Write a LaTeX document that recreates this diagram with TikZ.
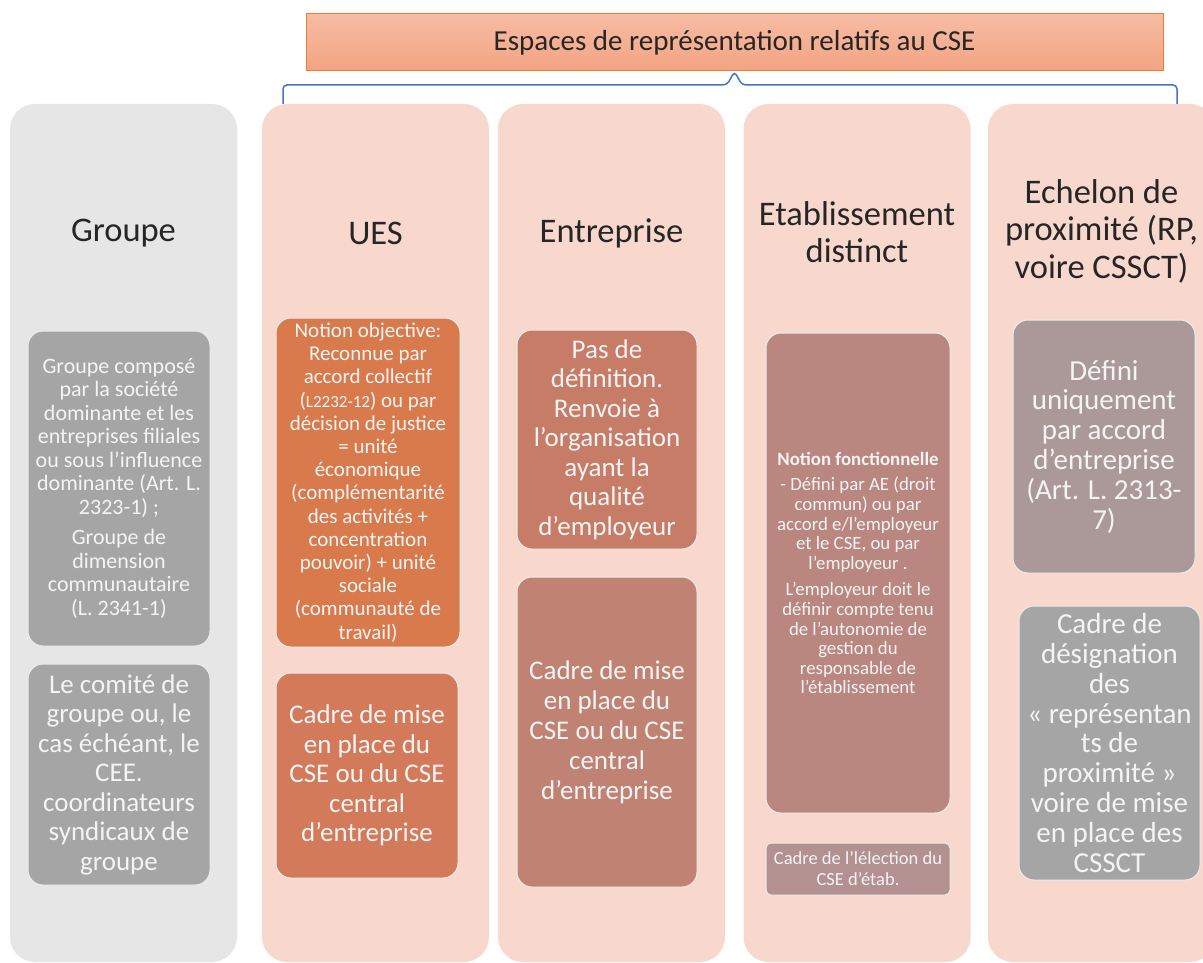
\documentclass[tikz,border=0pt]{standalone}
\usepackage{fontspec}
\setmainfont{Carlito}
\definecolor{colgray}{HTML}{E7E6E6}
\definecolor{colsal}{HTML}{F8D8CD}
\definecolor{hdrtop}{HTML}{F6BCA4}
\definecolor{hdrbot}{HTML}{F3A482}
\definecolor{hdrline}{HTML}{ED7D31}
\definecolor{bracecol}{HTML}{4472C4}
\definecolor{titlecol}{HTML}{262626}
\definecolor{gbox}{HTML}{A5A5A5}
\definecolor{uesA}{HTML}{D97A4C}
\definecolor{uesB}{HTML}{D37A5A}
\definecolor{entA}{HTML}{C77C67}
\definecolor{entB}{HTML}{BF8273}
\definecolor{etaA}{HTML}{B9877F}
\definecolor{etaB}{HTML}{B29190}
\definecolor{echA}{HTML}{AB9898}
\definecolor{boxtext}{HTML}{F4F4F4}
\begin{document}
\begin{tikzpicture}[x=1pt,y=-1pt,
  col/.style={rounded corners=25pt, minimum width=227pt, minimum height=858pt, inner sep=0pt},
  coltitle/.style={align=center, text=titlecol, font=\fontsize{34.5}{37.5}\selectfont, inner sep=0pt},
  innerbox/.style={rounded corners=15pt, draw=white!85!gray, line width=1pt, align=center, inner sep=0pt, text=boxtext},
  brace/.style={draw=bracecol, line width=1.5pt, rounded corners=4pt}]
\useasboundingbox (0,0) rectangle (1203,963);
\clip (0,0) rectangle (1203,963);
\fill[white] (0,0) rectangle (1203,963);

% header
\node[draw=hdrline, line width=1pt, top color=hdrtop, bottom color=hdrbot,
      minimum width=857pt, minimum height=57pt, inner sep=0pt, text=titlecol,
      font=\fontsize{29}{32}\selectfont] (hdr) at (734.5,42.5) {Espaces de représentation relatifs au CSE};

% columns
\node[col, fill=colgray] (cgrp) at (123.5,533) {};
\node[col, fill=colsal] (cues) at (375.5,533) {};
\node[col, fill=colsal] (cent) at (611.5,533) {};
\node[col, fill=colsal] (ceta) at (857,533) {};
\node[col, fill=colsal] (cech) at (1101.5,533) {};

% brace
\coordinate (bl) at (283,104);
\coordinate (br) at (1177,104);
\draw[brace] (bl) -- (283,85) -- (727,85) -- (hdr.south) -- (742,85) -- (1177,85) -- (br);

% titles
\node[coltitle] (tgrp) at (123.5,233) {Groupe};
\node[coltitle] (tues) at (375.5,233) {UES};
\node[coltitle] (tent) at (611.5,233) {Entreprise};
\node[coltitle] (teta) at (857,232) {Etablissement\\distinct};
\node[coltitle] (tech) at (1101.5,231) {Echelon de\\proximité (RP,\\voire CSSCT)};

% Groupe boxes
\node[innerbox, fill=gbox, minimum width=182pt, minimum height=315pt,
      font=\fontsize{22}{23.5}\selectfont] (g1) at (119,488.5)
  {Groupe composé\\par la société\\dominante et les\\entreprises filiales\\ou sous l’influence\\dominante (Art. L.\\2323-1) ;\\[7pt]Groupe de\\dimension\\communautaire\\(L. 2341-1)};
\node[innerbox, fill=gbox, minimum width=182pt, minimum height=221pt,
      font=\fontsize{27}{29.5}\selectfont] (g2) at (119,774.5)
  {Le comité de\\groupe ou, le\\cas échéant, le\\CEE.\\coordinateurs\\syndicaux de\\groupe};

% UES boxes
\node[innerbox, fill=uesA, minimum width=184pt, minimum height=329pt,
      font=\fontsize{21}{23.2}\selectfont] (u1) at (368,482.5)
  {Notion objective:\\Reconnue par\\accord collectif\\({\fontsize{17}{20}\selectfont L2232-12}) ou par\\décision de justice\\= unité\\économique\\(complémentarité\\des activités +\\concentration\\pouvoir) + unité\\sociale\\(communauté de\\travail)};
\node[innerbox, fill=uesB, minimum width=182pt, minimum height=205pt,
      font=\fontsize{27}{29.5}\selectfont] (u2) at (367,775.5)
  {Cadre de mise\\en place du\\CSE ou du CSE\\central\\d’entreprise};

% Entreprise boxes
\node[innerbox, fill=entA, minimum width=180pt, minimum height=219pt,
      font=\fontsize{27}{29.5}\selectfont] (e1) at (607,439.5)
  {Pas de\\définition.\\Renvoie à\\l’organisation\\ayant la\\qualité\\d’employeur};
\node[innerbox, fill=entB, minimum width=180pt, minimum height=310pt,
      font=\fontsize{27}{30}\selectfont] (e2) at (607,732)
  {Cadre de mise\\en place du\\CSE ou du CSE\\central\\d’entreprise};

% Etablissement boxes
\node[innerbox, fill=etaA, minimum width=184pt, minimum height=480pt,
      font=\fontsize{18.8}{19.6}\selectfont] (s1) at (858,573)
  {\textbf{Notion fonctionnelle}\\[6pt]- Défini par AE (droit\\commun) ou par\\accord e/l’employeur\\et le CSE, ou par\\l’employeur .\\[7pt]L’employeur doit le\\définir compte tenu\\de l'autonomie de\\gestion du\\responsable de\\l'établissement};
\node[innerbox, rounded corners=5pt, fill=etaB, minimum width=184pt, minimum height=52pt,
      font=\fontsize{18.5}{21}\selectfont] (s2) at (858,869)
  {Cadre de l’lélection du\\CSE d’étab.};

% Echelon boxes
\node[innerbox, fill=echA, minimum width=182pt, minimum height=253pt,
      font=\fontsize{29}{29.8}\selectfont] (h1) at (1104,446.5)
  {Défini\\uniquement\\par accord\\d’entreprise\\(Art. L. 2313-\\7)};
\node[innerbox, fill=gbox, minimum width=181pt, minimum height=274pt,
      font=\fontsize{29}{29.8}\selectfont] (h2) at (1109.5,743)
  {Cadre de\\désignation\\des\\«~représentan\\ts de\\proximité~»\\voire de mise\\en place des\\CSSCT};
\end{tikzpicture}
\end{document}
